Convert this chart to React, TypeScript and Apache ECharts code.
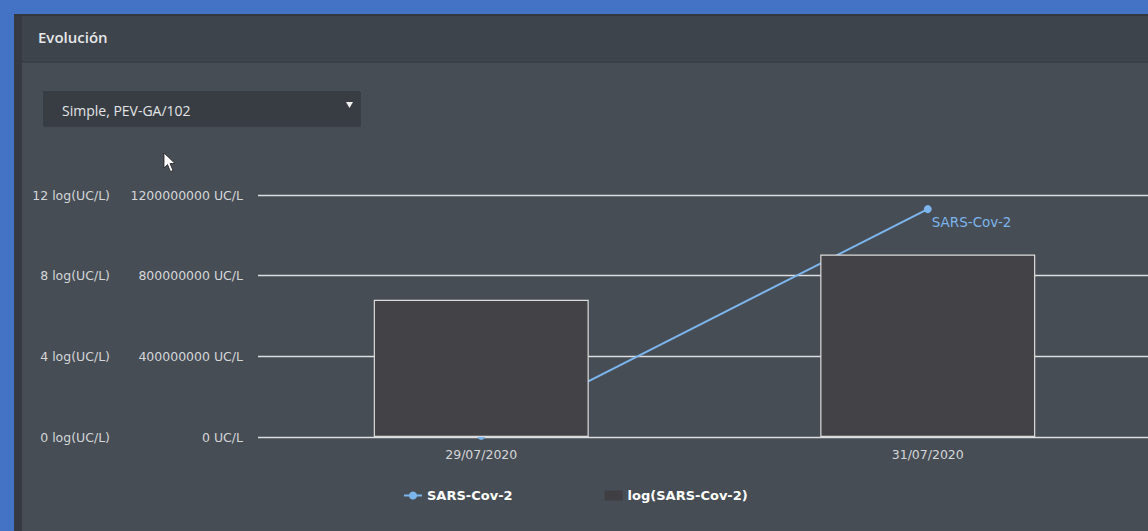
import React, { useEffect, useRef } from "react";
import * as echarts from "echarts";

const categories = ["29/07/2020", "31/07/2020"];
const sarsValues = [6300000, 1130000000];
const logValues = [6.8, 9.05];
const logTicks = { min: 0, max: 12, interval: 4 };
const linTicks = { min: 0, max: 1200000000, interval: 400000000 };
const title = "Evolución";
const selectText = "Simple, PEV-GA/102";

export default function App() {
  const ref = useRef<HTMLDivElement>(null);
  useEffect(() => {
    if (!ref.current) return;
    const chart = echarts.init(ref.current, null, { renderer: "svg" });
    const axisFont = { color: "#d4d6d8", fontSize: 12.5, fontFamily: "DejaVu Sans" };
    chart.setOption({
      animation: false,
      backgroundColor: "#474d55",
      graphic: [
        { type: "rect", silent: true, z: -10, shape: { x: 0, y: 0, width: 1160, height: 14 }, style: { fill: "#4472c4" } },
        { type: "rect", silent: true, z: -10, shape: { x: 0, y: 0, width: 14, height: 531 }, style: { fill: "#4472c4" } },
        { type: "rect", silent: true, z: -10, shape: { x: 14, y: 14, width: 8, height: 517 }, style: { fill: "#363b41" } },
        { type: "rect", silent: true, z: -10, shape: { x: 14, y: 14, width: 1146, height: 2 }, style: { fill: "#33383e" } },
        { type: "rect", silent: true, z: -10, shape: { x: 22, y: 16, width: 1138, height: 46 }, style: { fill: "#3e444b" } },
        { type: "rect", silent: true, z: -10, shape: { x: 22, y: 61, width: 1138, height: 2 }, style: { fill: "#3b4047" } },
        {
          type: "text", silent: true, x: 38, y: 37,
          style: { text: title, fill: "#e6e8ea", font: "600 15px 'Open Sans'", textVerticalAlign: "middle" },
        },
        { type: "rect", silent: true, shape: { x: 44, y: 92, width: 317, height: 35 }, style: { fill: "#3a3f45" } },
        { type: "rect", silent: true, shape: { x: 43, y: 91, width: 317, height: 35 }, style: { fill: "#383d43" } },
        {
          type: "text", silent: true, x: 62, y: 110,
          style: { text: selectText, fill: "#e2e4e6", font: "14px 'Open Sans'", textVerticalAlign: "middle" },
        },
        {
          type: "polygon", silent: true,
          shape: { points: [[346, 102], [353, 102], [349.5, 108]] },
          style: { fill: "#f0f0f0" },
        },
        {
          type: "polygon", silent: true,
          shape: { points: [[164, 153], [164, 168], [167.5, 164.5], [170.5, 171.5], [173, 170.5], [170, 163.5], [175, 163.5]] },
          style: { fill: "#ffffff", stroke: "#222", lineWidth: 0.8 },
        },
      ],
      grid: { left: 258, width: 893, top: 195, bottom: 94, containLabel: false },
      legend: {
        left: 398,
        top: 484,
        itemGap: 92,
        itemWidth: 18,
        itemHeight: 10,
        textStyle: { color: "#ffffff", fontSize: 13, fontWeight: "bold", fontFamily: "DejaVu Sans" },
        data: [
          { name: "SARS-Cov-2" },
          { name: "log(SARS-Cov-2)", icon: "rect", itemStyle: { borderWidth: 0, color: "#3f3e43" } },
        ],
      },
      xAxis: {
        type: "category",
        data: categories,
        axisLine: { show: false },
        axisTick: { show: false },
        axisLabel: { ...axisFont, margin: 11 },
      },
      yAxis: [
        {
          type: "value",
          position: "left",
          ...linTicks,
          axisLine: { show: false },
          axisTick: { show: false },
          axisLabel: { ...axisFont, margin: 15, formatter: (v: number) => `${v} UC/L` },
          splitLine: { lineStyle: { color: "#dcdee0", width: 1.3 } },
        },
        {
          type: "value",
          position: "left",
          offset: 133,
          ...logTicks,
          axisLine: { show: false },
          axisTick: { show: false },
          axisLabel: { ...axisFont, margin: 15, formatter: (v: number) => `${v} log(UC/L)` },
          splitLine: { show: false },
        },
      ],
      series: [
        {
          name: "SARS-Cov-2",
          type: "line",
          yAxisIndex: 0,
          z: 2,
          symbol: "circle",
          symbolSize: 8,
          color: "#7cb5ec",
          lineStyle: { width: 2, color: "#7cb5ec" },
          data: sarsValues.map((v, i) =>
            i === sarsValues.length - 1
              ? {
                  value: v,
                  label: {
                    show: true,
                    position: "right",
                    offset: [-5, 13],
                    formatter: "{a}",
                    color: "#7cb5ec",
                    fontSize: 13.5,
                    fontFamily: "DejaVu Sans",
                  },
                }
              : v
          ),
        },
        {
          name: "log(SARS-Cov-2)",
          type: "bar",
          yAxisIndex: 1,
          z: 3,
          barWidth: 215,
          itemStyle: { color: "#434246", borderColor: "#dcdcdc", borderWidth: 1.2 },
          data: logValues,
        },
      ],
    });
    return () => chart.dispose();
  }, []);
  return (
    <div
      style={{ position: "absolute", left: 0, top: 0, width: 1148, height: 531, overflow: "hidden" }}
    >
      <div ref={ref} style={{ width: 1160, height: 531 }} />
    </div>
  );
}
